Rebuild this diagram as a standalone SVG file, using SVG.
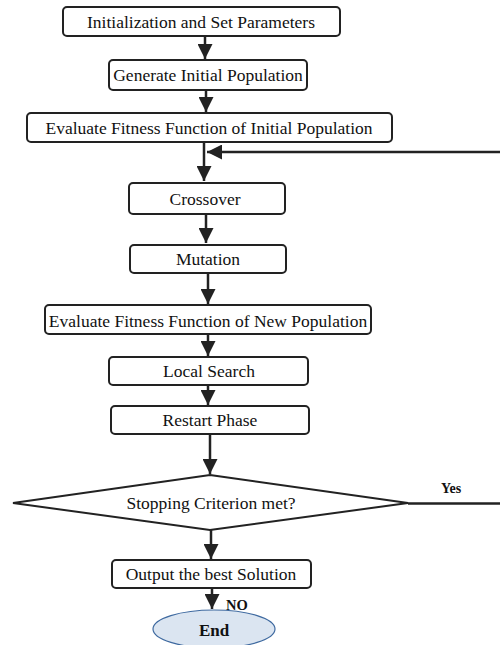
<svg xmlns="http://www.w3.org/2000/svg" width="500" height="645" viewBox="0 0 500 645">
<defs>
<style>
.box{fill:#fff;stroke:#222;stroke-width:2}
.t{font-family:"Liberation Serif","Times New Roman",serif;font-size:17.5px;fill:#111;text-anchor:middle}
.b{font-family:"Liberation Serif","Times New Roman",serif;font-weight:bold;fill:#111}
.c{stroke:#222;stroke-width:2.5;fill:none}
</style>
<marker id="ah" viewBox="0 0 10 10" refX="10" refY="5" markerWidth="15" markerHeight="15" markerUnits="userSpaceOnUse" orient="auto"><path d="M0,0 L10,5 L0,10 z" fill="#222"/></marker>
</defs>
<rect width="500" height="645" fill="#fff"/>
<g id="connectors">
<line class="c" x1="205" y1="36" x2="205" y2="59" marker-end="url(#ah)"/>
<line class="c" x1="206" y1="90" x2="206" y2="112" marker-end="url(#ah)"/>
<line class="c" x1="204" y1="142" x2="204" y2="181" marker-end="url(#ah)"/>
<line class="c" x1="500" y1="152" x2="207" y2="152" marker-end="url(#ah)"/>
<line class="c" x1="206" y1="214" x2="206" y2="243" marker-end="url(#ah)"/>
<line class="c" x1="208" y1="273" x2="208" y2="304" marker-end="url(#ah)"/>
<line class="c" x1="208" y1="334" x2="208" y2="356" marker-end="url(#ah)"/>
<line class="c" x1="208" y1="385" x2="208" y2="405" marker-end="url(#ah)"/>
<line class="c" x1="210" y1="434" x2="210" y2="474" marker-end="url(#ah)"/>
<line class="c" x1="408" y1="503.5" x2="500" y2="503.5"/>
<line class="c" x1="211" y1="530" x2="211" y2="559" marker-end="url(#ah)"/>
<line class="c" x1="212" y1="588" x2="212" y2="609" marker-end="url(#ah)"/>
<text class="b" x="441" y="493" font-size="14">Yes</text>
<text class="b" x="226" y="610" font-size="14.5">NO</text>
</g>
<g id="init"><rect class="box" x="63" y="7" width="277" height="29" rx="4"/><text class="t" x="201" y="28">Initialization and Set Parameters</text></g>
<g id="generate"><rect class="box" x="109" y="60" width="198" height="30" rx="4"/><text class="t" x="208" y="81">Generate Initial Population</text></g>
<g id="evalInit"><rect class="box" x="27" y="113" width="365" height="29" rx="4"/><text class="t" x="209" y="134">Evaluate Fitness Function of Initial Population</text></g>
<g id="crossover"><rect class="box" x="129" y="183" width="156" height="31" rx="4"/><text class="t" x="205" y="205">Crossover</text></g>
<g id="mutation"><rect class="box" x="130" y="245" width="156" height="28" rx="4"/><text class="t" x="208" y="265">Mutation</text></g>
<g id="evalNew"><rect class="box" x="45" y="305" width="326" height="29" rx="4"/><text class="t" x="208" y="327">Evaluate Fitness Function of New Population</text></g>
<g id="local"><rect class="box" x="109" y="357" width="199" height="28" rx="4"/><text class="t" x="209" y="377">Local Search</text></g>
<g id="restart"><rect class="box" x="111" y="406" width="198" height="28" rx="4"/><text class="t" x="210" y="426">Restart Phase</text></g>
<g id="stop"><polygon class="box" points="210,475 408,503 210,530 13,503"/><text class="t" x="211" y="509">Stopping Criterion met?</text></g>
<g id="output"><rect class="box" x="112" y="560" width="199" height="28" rx="4"/><text class="t" x="211" y="580">Output the best Solution</text></g>
<g id="end"><ellipse cx="214" cy="629" rx="61" ry="19" fill="#dbe5f1" stroke="#3f6aa0" stroke-width="1.2"/><text class="b" x="214" y="636" font-size="17" text-anchor="middle">End</text></g>
</svg>
